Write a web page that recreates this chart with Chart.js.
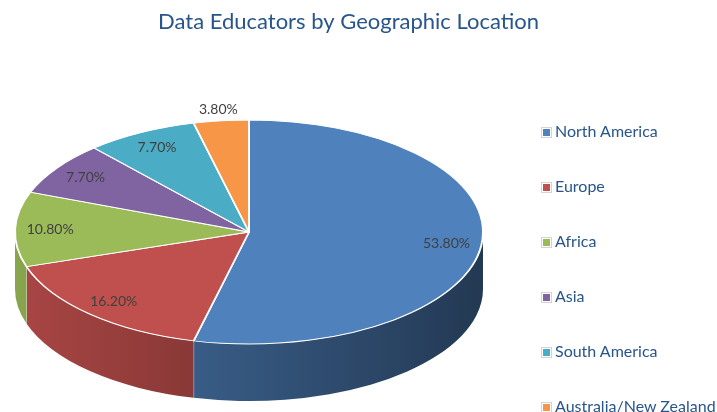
<!DOCTYPE html>
<html>
<head>
<meta charset="utf-8">
<script src="https://cdn.jsdelivr.net/npm/chart.js@4.4.1/dist/chart.umd.min.js"></script>
<style>
  body { margin: 0; background: #fff; }
  #wrap { position: relative; width: 717px; height: 412px; overflow: hidden; }
  #legend { position: absolute; left: 541px; top: 0; font-family: Lato, sans-serif; font-size: 16px; color: #28558A; }
  #legend div { position: absolute; left: 0; white-space: nowrap; line-height: 18px; }
  #legend .box { display: inline-block; width: 9px; height: 9px; border: 1px solid #d4d4d4; vertical-align: -1px; margin-right: 3px; position: relative; background: #fff; }
  #legend .box i { position: absolute; left: 1px; top: 1px; width: 7px; height: 7px; }
</style>
</head>
<body>
<div id="wrap">
  <canvas id="myChart" width="717" height="412"></canvas>
  <div id="legend"></div>
</div>
<script>
const regions = ['North America', 'Europe', 'Africa', 'Asia', 'South America', 'Australia/New Zealand'];
const shares = [53.8, 16.2, 10.8, 7.7, 7.7, 3.8];
const colors = ['#4F81BD', '#C0504D', '#9BBB59', '#8064A2', '#4BACC6', '#F79646'];

// layout of the tilted pie
const PIE_CX = 249, PIE_CY = 232, PIE_RX = 234, PIE_RY = 112, PIE_DEPTH = 57;

function shade(hex, f) {
    const n = parseInt(hex.slice(1), 16);
    const r = Math.round(((n >> 16) & 255) * f);
    const g = Math.round(((n >> 8) & 255) * f);
    const b = Math.round((n & 255) * f);
    return `rgb(${r},${g},${b})`;
}

const pie3d = {
    id: 'pie3d',
    beforeDatasetsDraw(chart) {
        const ctx = chart.ctx;
        const arcs = chart.getDatasetMeta(0).data;
        // side wall, only the front half (angles 0..PI) is visible
        arcs.forEach((arc, i) => {
            const s = Math.max(arc.startAngle, 0);
            const e = Math.min(arc.endAngle, Math.PI);
            if (e <= s) return;
            const grad = ctx.createLinearGradient(PIE_CX - PIE_RX, 0, PIE_CX + PIE_RX, 0);
            grad.addColorStop(0, shade(colors[i], 0.88));
            grad.addColorStop(1, shade(colors[i], 0.44));
            ctx.beginPath();
            ctx.ellipse(PIE_CX, PIE_CY, PIE_RX, PIE_RY, 0, s, e);
            ctx.ellipse(PIE_CX, PIE_CY + PIE_DEPTH, PIE_RX, PIE_RY, 0, e, s, true);
            ctx.closePath();
            ctx.fillStyle = grad;
            ctx.fill();
            // light seam between slices
            if (arc.endAngle < Math.PI) {
                const x = PIE_CX + PIE_RX * Math.cos(arc.endAngle);
                const y = PIE_CY + PIE_RY * Math.sin(arc.endAngle);
                ctx.beginPath();
                ctx.moveTo(x, y);
                ctx.lineTo(x, y + PIE_DEPTH);
                ctx.strokeStyle = 'rgba(255,255,255,0.7)';
                ctx.lineWidth = 1;
                ctx.stroke();
            }
        });
        // squash the top face into an ellipse
        const a = arcs[0];
        ctx.save();
        ctx.translate(PIE_CX, PIE_CY);
        ctx.scale(PIE_RX / a.outerRadius, PIE_RY / a.outerRadius);
        ctx.translate(-a.x, -a.y);
    },
    afterDatasetsDraw(chart) {
        const ctx = chart.ctx;
        ctx.restore();
        const arcs = chart.getDatasetMeta(0).data;
        ctx.save();
        ctx.font = '14px Lato, sans-serif';
        ctx.fillStyle = '#404040';
        ctx.textAlign = 'center';
        ctx.textBaseline = 'middle';
        arcs.forEach((arc, i) => {
            const mid = (arc.startAngle + arc.endAngle) / 2;
            const k = shares[i] < 5 ? 1.1 : 0.85; // small slice label goes outside
            const x = PIE_CX + PIE_RX * k * Math.cos(mid);
            const y = PIE_CY + PIE_RY * k * Math.sin(mid);
            ctx.fillText(shares[i].toFixed(2) + '%', x, y);
        });
        ctx.restore();
    }
};

const ctx = document.getElementById('myChart').getContext('2d');
new Chart(ctx, {
    type: 'pie',
    data: {
        labels: regions,
        datasets: [{
            data: shares,
            backgroundColor: colors,
            borderColor: '#ffffff',
            borderWidth: 1.5
        }]
    },
    options: {
        responsive: false,
        animation: false,
        layout: { padding: { right: 20 } },
        plugins: {
            legend: { display: false },
            tooltip: { enabled: false },
            title: {
                display: true,
                text: 'Data Educators by Geographic Location',
                color: '#28558A',
                font: { family: 'Lato', size: 22, weight: 'normal' },
                padding: { top: 9, bottom: 10 }
            }
        }
    },
    plugins: [pie3d]
});

// legend built from the same arrays
const legend = document.getElementById('legend');
const legendTops = 131, legendStep = 55;
regions.forEach((name, i) => {
    const item = document.createElement('div');
    item.style.top = (legendTops + i * legendStep - 9) + 'px';
    item.innerHTML = `<span class="box"><i style="background:${colors[i]}"></i></span>${name}`;
    legend.appendChild(item);
});
</script>
</body>
</html>
